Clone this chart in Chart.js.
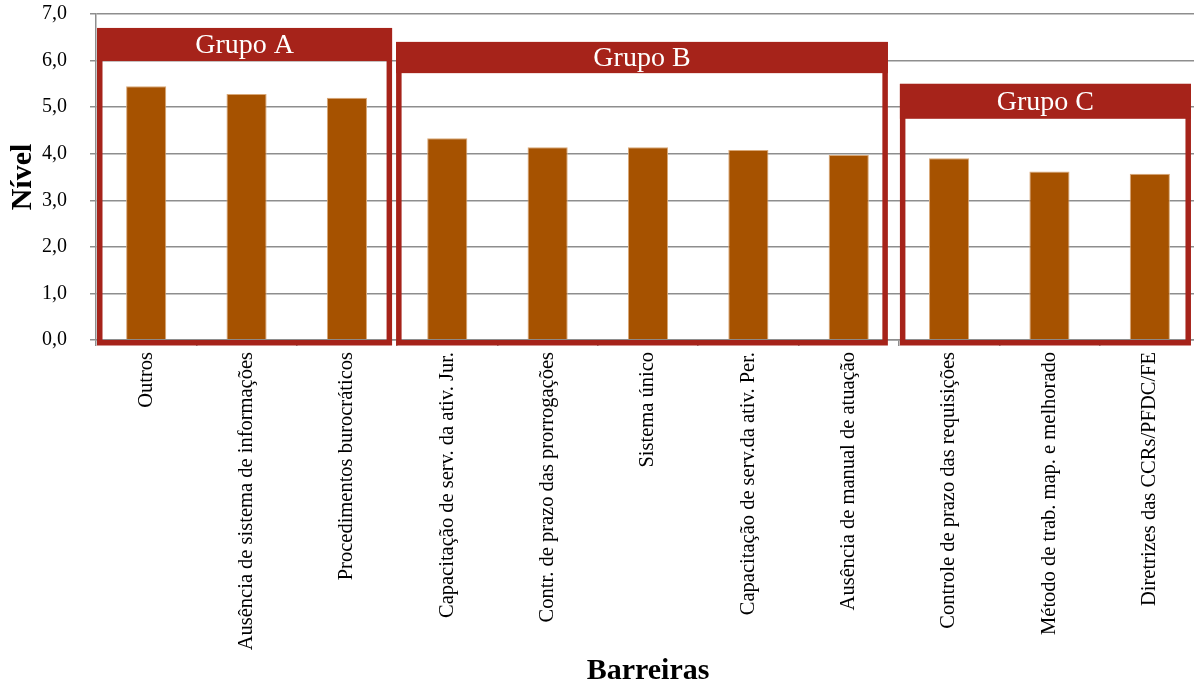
<!DOCTYPE html>
<html>
<head>
<meta charset="utf-8">
<script src="https://cdn.jsdelivr.net/npm/chart.js@4/dist/chart.umd.min.js"></script>
<style>
  html, body { margin: 0; padding: 0; background: #fff; overflow: hidden; }
  #wrap { width: 1200px; height: 686px; }
</style>
</head>
<body>
<div id="wrap"><canvas id="c" width="1200" height="686"></canvas></div>
<script>
// Barreiras avaliadas e o nível médio atribuído a cada uma
const categories = [
  'Outros',
  'Ausência de sistema de informações',
  'Procedimentos burocráticos',
  'Capacitação de serv. da ativ. Jur.',
  'Contr. de prazo das prorrogações',
  'Sistema único',
  'Capacitação de serv.da ativ. Per.',
  'Ausência de manual de atuação',
  'Controle de prazo das requisições',
  'Método de trab. map. e melhorado',
  'Diretrizes das CCRs/PFDC/FE'
];
const nivel = [5.45, 5.28, 5.20, 4.33, 4.14, 4.14, 4.08, 3.97, 3.90, 3.62, 3.57];

// Agrupamento das barreiras
const groupNames = ['Grupo A', 'Grupo B', 'Grupo C'];
const groupFirst = [0, 3, 8];
const groupLast = [2, 7, 10];

// Eixo vertical
const yTicks = [0, 1, 2, 3, 4, 5, 6, 7];

const RED = '#A6231A';
const BAR = '#A65200';
const GRID = '#8E8E8E';

// Caixas de grupo: limites horizontais em unidades de categoria e faixa do cabeçalho em valores do eixo
const groupBoxLayout = [
  { from: -0.49, to: 2.45, headTop: 6.70, headBottom: 5.99 },
  { from: 2.49, to: 7.39, headTop: 6.40, headBottom: 5.73 },
  { from: 7.51, to: 10.41, headTop: 5.50, headBottom: 4.75 }
];

const groupBoxes = {
  id: 'groupBoxes',
  afterDatasetsDraw(chart) {
    const { ctx, scales: { x, y } } = chart;
    const step = x.getPixelForValue(1) - x.getPixelForValue(0);
    const lw = 5.5;
    ctx.save();
    groupNames.forEach((name, i) => {
      const L = groupBoxLayout[i];
      const left = x.getPixelForValue(0) + L.from * step;
      const right = x.getPixelForValue(0) + L.to * step;
      const top = y.getPixelForValue(L.headTop);
      const hb = y.getPixelForValue(L.headBottom);
      const bottom = y.getPixelForValue(0) + lw / 2;
      // moldura
      ctx.strokeStyle = RED;
      ctx.lineWidth = lw;
      ctx.strokeRect(left + lw / 2, top + lw / 2, right - left - lw, bottom - top - lw / 2);
      // cabeçalho
      ctx.fillStyle = RED;
      ctx.fillRect(left, top, right - left, hb - top);
      ctx.fillStyle = '#ffffff';
      ctx.font = '28px "Liberation Serif", serif';
      ctx.textAlign = 'center';
      ctx.textBaseline = 'middle';
      ctx.fillText(name, (left + right) / 2, (top + hb) / 2 + 1);
    });
    ctx.restore();
  }
};

new Chart(document.getElementById('c'), {
  type: 'bar',
  data: {
    labels: categories,
    datasets: [{
      data: nivel,
      backgroundColor: BAR,
      borderColor: '#D9A878',
      borderWidth: { top: 1, left: 1, right: 1, bottom: 0 },
      barPercentage: 0.4,
      categoryPercentage: 1.0
    }]
  },
  options: {
    responsive: false,
    animation: false,
    layout: { padding: { top: 14, right: 0, bottom: 0, left: 0 } },
    plugins: { legend: { display: false }, tooltip: { enabled: false } },
    scales: {
      x: {
        offset: true,
        grid: { offset: true, drawOnChartArea: false, drawTicks: true, tickLength: 6, color: GRID, lineWidth: 1.5 },
        border: { display: true, color: GRID, width: 1.5 },
        ticks: {
          autoSkip: false, maxRotation: 90, minRotation: 90, padding: 6,
          color: '#000', font: { family: '"Liberation Serif", serif', size: 20.5 }
        },
        title: {
          display: true, text: 'Barreiras', color: '#000',
          font: { family: '"Liberation Serif", serif', size: 30, weight: 'bold', lineHeight: 1 },
          padding: { top: 0, bottom: 0 }
        },
        afterFit(scale) {
          scale.height = 346;
          scale.paddingLeft = 0;
          scale.paddingRight = 0;
        }
      },
      y: {
        min: 0, max: 7,
        afterBuildTicks(scale) { scale.ticks = yTicks.map(v => ({ value: v })); },
        grid: { color: GRID, lineWidth: 1.5, tickLength: 6, drawTicks: true },
        border: { display: true, color: GRID, width: 1.5 },
        ticks: {
          padding: 23, color: '#000',
          font: { family: '"Liberation Serif", serif', size: 20 },
          callback: v => v.toFixed(1).replace('.', ',')
        },
        title: {
          display: true, text: 'Nível', color: '#000',
          font: { family: '"Liberation Serif", serif', size: 30, weight: 'bold', lineHeight: 1 },
          padding: { top: 8, bottom: 0 }
        },
        afterFit(scale) {
          scale.width = 96;
          scale.paddingTop = 0;
          scale.paddingBottom = 0;
        }
      }
    }
  },
  plugins: [groupBoxes]
});
</script>
</body>
</html>
